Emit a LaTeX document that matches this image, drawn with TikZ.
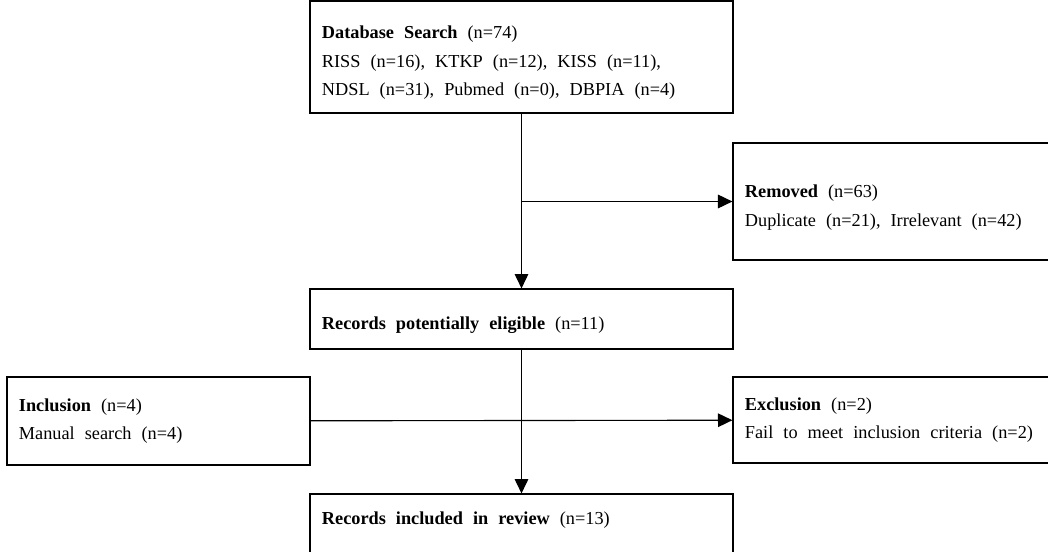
\documentclass[tikz,border=0pt]{standalone}
\usepackage{fontspec}
\setmainfont{Liberation Serif}
\usetikzlibrary{arrows.meta}
\newcommand{\padtop}{\rule{0pt}{17.5pt}}
\newcommand{\padbot}{\rule[-8.6pt]{0pt}{8.6pt}}

\begin{document}
\begin{tikzpicture}[x=0.025cm, y=-0.025cm,
    box/.style={draw, rectangle, align=left, inner xsep=0.3cm, inner ysep=0pt, line width=0.8pt,
        font=\fontsize{13}{20.3}\selectfont,
        execute at begin node={\spaceskip=0.55em plus 0.1em minus 0.05em\relax}},
    flow/.style={line width=0.8pt, -{Triangle[length=0.36cm, width=0.34cm]}}]
    \useasboundingbox (0,0) rectangle (1048,552);
    \node[box, text width=9.975cm, minimum height=2.8cm] (db) at (521.5,57)
        {\padtop\textbf{Database Search} (n=74)\\RISS (n=16), KTKP (n=12), KISS (n=11),\\NDSL (n=31), Pubmed (n=0), DBPIA (n=4)};
    \node[box, text width=7.575cm, minimum height=2.925cm] (removed) at (896.5,201.5)
        {\padtop\textbf{Removed} (n=63)\\Duplicate (n=21), Irrelevant (n=42)};
    \node[box, text width=9.975cm, minimum height=1.5cm] (eligible) at (521.5,319)
        {\padtop\textbf{Records potentially eligible} (n=11)};
    \node[box, text width=6.975cm, minimum height=2.2cm] (inclusion) at (158.5,421)
        {\textbf{Inclusion} (n=4)\\Manual search (n=4)};
    \node[box, text width=7.575cm, minimum height=2.15cm] (exclusion) at (896.5,420)
        {\textbf{Exclusion} (n=2)\\Fail to meet inclusion criteria (n=2)};
    \node[box, text width=9.975cm, minimum height=1.5cm] (included) at (521.5,524)
        {\textbf{Records included in review} (n=13)\padbot};
    \coordinate (split) at (521.5,201.5);
    \path (db) edge[flow] (eligible);
    \path (split) edge[flow] (removed);
    \path (eligible) edge[flow] (included);
    \path (inclusion) edge[flow] (exclusion);
\end{tikzpicture}
\end{document}
